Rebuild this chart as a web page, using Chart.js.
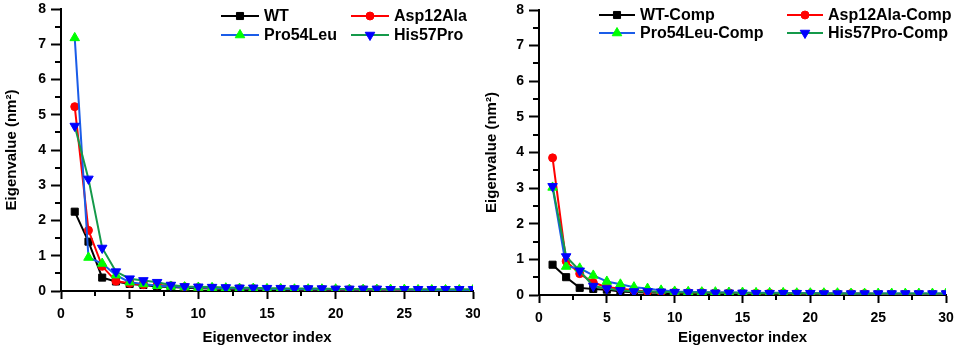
<!DOCTYPE html>
<html>
<head>
<meta charset="utf-8">
<script src="https://cdn.jsdelivr.net/npm/chart.js@4.4.1/dist/chart.umd.min.js"></script>
<style>
  html, body { margin: 0; padding: 0; background: #fff; }
  .panel { position: absolute; top: 0; height: 353px; }
  #left { left: 0; width: 480px; }
  #right { left: 480px; width: 477px; }
</style>
</head>
<body>
<div class="panel" id="left"><canvas id="chartA"></canvas></div>
<div class="panel" id="right"><canvas id="chartB"></canvas></div>
<script>
// eigenvector index
const indices = [1, 2, 3, 4, 5, 6, 7, 8, 9, 10, 11, 12, 13, 14, 15,
                 16, 17, 18, 19, 20, 21, 22, 23, 24, 25, 26, 27, 28, 29, 30];

// left panel
const wt       = [2.25, 1.40, 0.38, 0.27, 0.20, 0.17, 0.13, 0.11, 0.09, 0.08, 0.07, 0.06, 0.06, 0.05, 0.05,
                  0.04, 0.04, 0.04, 0.03, 0.03, 0.03, 0.03, 0.03, 0.02, 0.02, 0.02, 0.02, 0.02, 0.02, 0.02];
const asp12Ala = [5.23, 1.72, 0.70, 0.28, 0.22, 0.18, 0.17, 0.15, 0.12, 0.10, 0.09, 0.08, 0.07, 0.07, 0.06,
                  0.06, 0.05, 0.05, 0.05, 0.04, 0.04, 0.04, 0.04, 0.03, 0.03, 0.03, 0.03, 0.03, 0.03, 0.03];
const pro54Leu = [7.18, 0.95, 0.78, 0.45, 0.25, 0.20, 0.15, 0.13, 0.11, 0.10, 0.09, 0.08, 0.07, 0.07, 0.06,
                  0.06, 0.05, 0.05, 0.05, 0.05, 0.04, 0.04, 0.04, 0.04, 0.04, 0.03, 0.03, 0.03, 0.03, 0.03];
const his57Pro = [4.68, 3.18, 1.22, 0.55, 0.35, 0.30, 0.25, 0.17, 0.13, 0.12, 0.11, 0.10, 0.09, 0.09, 0.08,
                  0.08, 0.07, 0.07, 0.07, 0.06, 0.06, 0.06, 0.06, 0.05, 0.05, 0.05, 0.05, 0.05, 0.05, 0.05];

// right panel
const wtComp       = [0.85, 0.50, 0.20, 0.17, 0.15, 0.10, 0.08, 0.07, 0.06, 0.05, 0.05, 0.04, 0.04, 0.04, 0.03,
                      0.03, 0.03, 0.03, 0.03, 0.02, 0.02, 0.02, 0.02, 0.02, 0.02, 0.02, 0.02, 0.02, 0.02, 0.02];
const asp12AlaComp = [3.85, 0.95, 0.60, 0.35, 0.22, 0.18, 0.13, 0.10, 0.09, 0.08, 0.07, 0.07, 0.06, 0.06, 0.05,
                      0.05, 0.05, 0.05, 0.04, 0.04, 0.04, 0.04, 0.04, 0.04, 0.03, 0.03, 0.03, 0.03, 0.03, 0.03];
const pro54LeuComp = [3.02, 0.80, 0.75, 0.55, 0.38, 0.30, 0.22, 0.18, 0.13, 0.10, 0.09, 0.08, 0.08, 0.07, 0.07,
                      0.06, 0.06, 0.06, 0.05, 0.05, 0.05, 0.05, 0.04, 0.04, 0.04, 0.04, 0.04, 0.04, 0.04, 0.04];
const his57ProComp = [3.05, 1.08, 0.68, 0.25, 0.18, 0.13, 0.10, 0.10, 0.09, 0.08, 0.07, 0.07, 0.06, 0.06, 0.06,
                      0.05, 0.05, 0.05, 0.05, 0.05, 0.04, 0.04, 0.04, 0.04, 0.04, 0.04, 0.04, 0.04, 0.04, 0.04];

const xTicks = [0, 5, 10, 15, 20, 25, 30];
const yTicks = [0, 1, 2, 3, 4, 5, 6, 7, 8];

const FONT = "'Liberation Sans', Arial, sans-serif";

// series styles: line colour, marker colour, marker shape, rotation, radius
const styles = [
    { line: '#000000', marker: '#000000', shape: 'rect', rotation: 0, radius: 5 },
    { line: '#ff0000', marker: '#ff0000', shape: 'circle', rotation: 0, radius: 4 },
    { line: '#1a5ce8', marker: '#00ff00', shape: 'triangle', rotation: 0, radius: 5.5 },
    { line: '#14994a', marker: '#0000ff', shape: 'triangle', rotation: 180, radius: 5.5 }
];

function toPoints(values) {
    return indices.map(function (x, i) { return { x: x, y: values[i] }; });
}

function makeDatasets(labels, series) {
    return series.map(function (values, i) {
        const s = styles[i];
        return {
            label: labels[i],
            data: toPoints(values),
            borderColor: s.line,
            borderWidth: 2,
            backgroundColor: s.marker,
            pointBackgroundColor: s.marker,
            pointBorderColor: s.marker,
            pointBorderWidth: 1,
            pointStyle: s.shape,
            pointRotation: s.rotation,
            pointRadius: s.radius,
            pointHoverRadius: s.radius,
            tension: 0,
            order: 3 - i
        };
    });
}

/** Minor ticks between the labelled ones, plus legend drawn inside the plot
 */
const decorPlugin = {
    id: 'decor',
    afterDraw: function (chart, args, opts) {
        const ctx = chart.ctx;
        const xs = chart.scales.x, ys = chart.scales.y;
        const area = chart.chartArea;
        ctx.save();
        ctx.strokeStyle = '#000';
        ctx.lineWidth = 2;
        ctx.beginPath();
        for (let v = 0.5; v < 8; v += 1) {
            const py = Math.round(ys.getPixelForValue(v));
            ctx.moveTo(area.left - 6, py);
            ctx.lineTo(area.left, py);
        }
        for (let v = 2.5; v < 30; v += 5) {
            const px = Math.round(xs.getPixelForValue(v));
            ctx.moveTo(px, area.bottom);
            ctx.lineTo(px, area.bottom + 5);
        }
        ctx.stroke();

        // legend
        ctx.font = 'bold 16px ' + FONT;
        ctx.textBaseline = 'middle';
        ctx.textAlign = 'left';
        chart.data.datasets.forEach(function (ds, i) {
            const x0 = opts.cols[i % 2], y0 = opts.rows[Math.floor(i / 2)];
            ctx.strokeStyle = ds.borderColor;
            ctx.lineWidth = 2;
            ctx.beginPath();
            ctx.moveTo(x0, y0);
            ctx.lineTo(x0 + opts.lineLen, y0);
            ctx.stroke();
            ctx.fillStyle = ds.pointBackgroundColor;
            ctx.strokeStyle = ds.pointBorderColor;
            ctx.lineWidth = 1;
            Chart.helpers.drawPoint(ctx, {
                pointStyle: ds.pointStyle,
                rotation: ds.pointRotation,
                radius: ds.pointRadius,
                borderWidth: 1
            }, x0 + opts.lineLen / 2, y0);
            ctx.fillStyle = '#000';
            ctx.fillText(ds.label, x0 + opts.lineLen + 5, y0 + 1);
        });
        ctx.restore();
    }
};

function makeChart(id, labels, series, geom) {
    return new Chart(document.getElementById(id).getContext('2d'), {
        type: 'line',
        data: { datasets: makeDatasets(labels, series) },
        plugins: [decorPlugin],
        options: {
            responsive: true,
            maintainAspectRatio: false,
            animation: false,
            events: [],
            layout: { padding: { left: 0, right: geom.right, top: geom.top, bottom: 0 } },
            plugins: {
                legend: { display: false },
                tooltip: { enabled: false },
                decor: { cols: geom.cols, rows: geom.rows, lineLen: geom.lineLen }
            },
            scales: {
                x: {
                    type: 'linear',
                    min: 0,
                    max: 30,
                    afterBuildTicks: function (scale) {
                        scale.ticks = xTicks.map(function (v) { return { value: v }; });
                    },
                    afterFit: function (scale) {
                        scale.height = geom.xHeight;
                        scale.paddingLeft = 0;
                        scale.paddingRight = 0;
                    },
                    border: { display: true, color: '#000', width: 2 },
                    grid: { drawOnChartArea: false, drawTicks: true, tickLength: 8, tickColor: '#000', tickWidth: 2 },
                    ticks: { color: '#000', font: { family: FONT, size: 14, weight: 'bold' }, padding: 7, maxRotation: 0 },
                    title: {
                        display: true,
                        text: 'Eigenvector index',
                        color: '#000',
                        font: { family: FONT, size: 15, weight: 'bold' },
                        padding: { top: 4, bottom: 6 }
                    }
                },
                y: {
                    min: 0,
                    max: 8,
                    afterBuildTicks: function (scale) {
                        scale.ticks = yTicks.map(function (v) { return { value: v }; });
                    },
                    afterFit: function (scale) {
                        scale.width = geom.yWidth;
                        scale.paddingTop = 0;
                        scale.paddingBottom = 0;
                    },
                    border: { display: true, color: '#000', width: 2 },
                    grid: { drawOnChartArea: false, drawTicks: true, tickLength: 10, tickColor: '#000', tickWidth: 2 },
                    ticks: { color: '#000', font: { family: FONT, size: 14, weight: 'bold' }, padding: 5 },
                    title: {
                        display: true,
                        text: 'Eigenvalue (nm\u00B2)',
                        color: '#000',
                        font: { family: FONT, size: 15, weight: 'bold' },
                        padding: { top: 3, bottom: 4 }
                    }
                }
            }
        }
    });
}

makeChart('chartA', ['WT', 'Asp12Ala', 'Pro54Leu', 'His57Pro'],
    [wt, asp12Ala, pro54Leu, his57Pro],
    { right: 7, top: 9, yWidth: 61, xHeight: 62, cols: [221, 351], rows: [16, 35], lineLen: 38 });

makeChart('chartB', ['WT-Comp', 'Asp12Ala-Comp', 'Pro54Leu-Comp', 'His57Pro-Comp'],
    [wtComp, asp12AlaComp, pro54LeuComp, his57ProComp],
    { right: 11, top: 10, yWidth: 59, xHeight: 58, cols: [119, 307], rows: [15, 33], lineLen: 36 });
</script>
</body>
</html>
